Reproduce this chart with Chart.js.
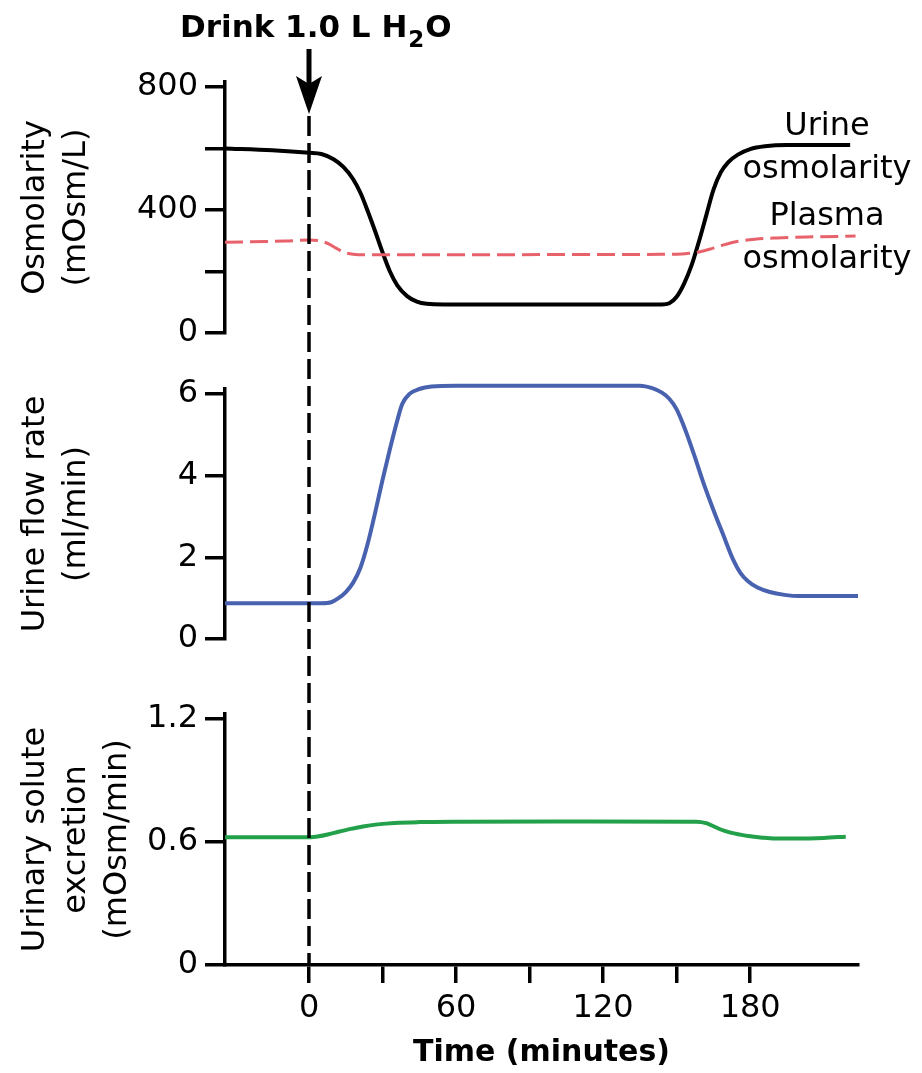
<!DOCTYPE html>
<html><head><meta charset="utf-8">
<script src="https://cdn.jsdelivr.net/npm/chart.js@4.4.1/dist/chart.umd.min.js"></script>
<style>
html,body{margin:0;padding:0;background:#fff;}
#wrap{position:relative;width:922px;height:1073px;overflow:hidden;background:#fff;}
canvas{position:absolute;left:0;top:0;}
</style></head><body>
<div id="wrap">
<canvas id="c1" width="922" height="1073"></canvas>
<canvas id="c2" width="922" height="1073"></canvas>
<canvas id="c3" width="922" height="1073"></canvas>
</div>
<script>
// ---- data ----
const urineOsmTime = [-34.3, -15, 0, 5, 10, 14, 18, 21, 24, 27, 30, 33, 36, 40, 44, 48, 55, 100, 144, 147, 150, 153, 156, 159, 162, 165, 168, 171, 175, 180, 186, 195, 220.8];
const urineOsmValues = [600, 594, 586, 582, 565, 540, 500, 455, 395, 330, 262, 200, 155, 120, 102, 95, 93, 93, 93, 97, 118, 160, 218, 295, 380, 465, 522, 555, 580, 598, 607, 611, 611];
const plasmaOsmTime = [-34.3, -10, 0, 4, 8, 11, 14, 18, 24, 60, 100, 150, 155, 160, 165, 170, 175, 182, 191, 203, 223];
const plasmaOsmValues = [295, 299, 302, 300, 290, 276, 263, 256, 254, 254, 255, 256, 259, 265, 276, 288, 298, 305, 309, 312, 315];
const flowTime = [-34.3, 0, 5, 9, 12, 15, 18, 21, 24, 27, 30, 33, 36, 38, 41, 45, 50, 60, 100, 135, 140, 144, 147, 150, 153, 157, 161, 165, 169, 173, 176, 179, 183, 188, 194, 200, 224];
const flowValues = [0.874, 0.874, 0.874, 0.9, 1.0, 1.15, 1.38, 1.75, 2.35, 3.1, 3.9, 4.65, 5.35, 5.75, 6.0, 6.12, 6.18, 6.2, 6.2, 6.2, 6.14, 6.03, 5.88, 5.62, 5.2, 4.53, 3.81, 3.16, 2.55, 1.95, 1.62, 1.42, 1.26, 1.15, 1.08, 1.05, 1.05];
const soluteTime = [-34.3, 0, 4, 8, 12, 17, 22, 28, 35, 45, 60, 100, 158, 162, 165, 168, 172, 176, 180, 185, 190, 200, 210, 219];
const soluteValues = [0.623, 0.623, 0.628, 0.638, 0.65, 0.664, 0.676, 0.686, 0.693, 0.697, 0.699, 0.70, 0.699, 0.692, 0.677, 0.661, 0.646, 0.636, 0.628, 0.621, 0.617, 0.617, 0.620, 0.626];

const timeTicks = [0, 30, 60, 90, 120, 150, 180];
const timeTickLabels = ['0', '', '60', '', '120', '', '180'];
const osmTicks = [0, 200, 400, 600, 800];
const osmTickLabels = ['0', '', '400', '', '800'];
const flowTicks = [0, 2, 4, 6];
const flowTickLabels = ['0', '2', '4', '6'];
const soluteTicks = [0, 0.6, 1.2];
const soluteTickLabels = ['0', '0.6', '1.2'];
const drinkTime = 0;

// ---- helpers ----
const FONT = "'DejaVu Sans', sans-serif";
const X_MIN = -34.3, X_MAX = 224;
const pts = (t, v) => t.map((x, i) => ({x: x, y: v[i]}));

function xScale(show) {
  return {
    type: 'linear', min: X_MIN, max: X_MAX, display: show,
    afterBuildTicks: ax => { ax.ticks = timeTicks.map(v => ({value: v})); },
    afterFit: ax => { if (show) ax.height = 108; },
    grid: {drawOnChartArea: false, drawTicks: true, tickLength: 18, lineWidth: 3.5, color: '#000'},
    border: {display: true, width: 3.5, color: '#000'},
    ticks: {autoSkip: false, maxRotation: 0, padding: 6, color: '#000',
      font: {family: FONT, size: 32}, callback: (v, i) => timeTickLabels[i]},
    title: {display: true, text: 'Time (minutes)', color: '#000',
      font: {family: FONT, size: 30, weight: 'bold'}, padding: {top: 0, bottom: 2}}
  };
}
function yScale(min, max, tickVals, tickLabels, title) {
  return {
    type: 'linear', position: 'left', min: min, max: max,
    afterBuildTicks: ax => { ax.ticks = tickVals.map(v => ({value: v})); },
    afterFit: ax => { ax.width = 225; },
    grid: {drawOnChartArea: false, drawTicks: true, tickLength: 20, lineWidth: 3.5, color: '#000'},
    border: {display: true, width: 3.5, color: '#000'},
    ticks: {autoSkip: false, padding: 7, color: '#000',
      font: {family: FONT, size: 32}, callback: (v, i) => tickLabels[i]},
    title: {display: true, text: title, color: '#000',
      font: {family: FONT, size: 32, lineHeight: 1.28}, padding: {top: 15, bottom: 0}}
  };
}
function lineDs(label, data, color, width, dash) {
  return {label: label, data: data, borderColor: color, borderWidth: width, borderDash: dash || [],
    pointRadius: 0, fill: false, cubicInterpolationMode: 'monotone', borderCapStyle: 'butt', clip: false};
}
const common = {responsive: false, maintainAspectRatio: false, animation: false,
  plugins: {legend: {display: false}, tooltip: {enabled: false}}, events: []};

// ---- top panel: osmolarity ----
const labelsPlugin = {
  id: 'labels',
  afterDraw(chart) {
    const ctx = chart.ctx;
    ctx.save();
    ctx.fillStyle = '#000';
    ctx.font = "32px " + FONT;
    ctx.textAlign = 'center';
    ctx.textBaseline = 'alphabetic';
    ctx.fillText('Urine', 827, 135);
    ctx.fillText('osmolarity', 827, 178);
    ctx.fillText('Plasma', 827, 225);
    ctx.fillText('osmolarity', 827, 268);
    ctx.restore();
  }
};
new Chart(document.getElementById('c1'), {
  type: 'line',
  data: {datasets: [
    lineDs('Plasma osmolarity', pts(plasmaOsmTime, plasmaOsmValues), '#e8626b', 3, [18, 7]),
    lineDs('Urine osmolarity', pts(urineOsmTime, urineOsmValues), '#000000', 4)
  ]},
  options: Object.assign({}, common, {
    layout: {padding: {top: 82, bottom: 1073 - 333, left: 0, right: 64}},
    scales: {x: xScale(false), y: yScale(0, 816, osmTicks, osmTickLabels, ['Osmolarity', '(mOsm/L)'])}
  }),
  plugins: [labelsPlugin]
});

// ---- middle panel: urine flow ----
new Chart(document.getElementById('c2'), {
  type: 'line',
  data: {datasets: [lineDs('Urine flow rate', pts(flowTime, flowValues), '#4862b0', 4)]},
  options: Object.assign({}, common, {
    layout: {padding: {top: 389, bottom: 1073 - 639, left: 0, right: 64}},
    scales: {x: xScale(false), y: yScale(0, 6.12, flowTicks, flowTickLabels, ['Urine flow rate', '(ml/min)'])}
  })
});

// ---- bottom panel: solute excretion + annotations ----
const drinkPlugin = {
  id: 'drink',
  afterDraw(chart) {
    const ctx = chart.ctx;
    const x = Math.round(chart.scales.x.getPixelForValue(drinkTime));
    ctx.save();
    // dashed vertical line
    ctx.strokeStyle = '#000';
    ctx.lineWidth = 3.5;
    ctx.setLineDash([20, 7]);
    ctx.beginPath();
    ctx.moveTo(x, 116);
    ctx.lineTo(x, chart.chartArea.bottom);
    ctx.stroke();
    ctx.setLineDash([]);
    // arrow
    ctx.lineWidth = 5;
    ctx.beginPath();
    ctx.moveTo(x, 49);
    ctx.lineTo(x, 92);
    ctx.stroke();
    ctx.fillStyle = '#000';
    ctx.beginPath();
    ctx.moveTo(x, 114);
    ctx.lineTo(x - 13, 76);
    ctx.lineTo(x, 84);
    ctx.lineTo(x + 13, 76);
    ctx.closePath();
    ctx.fill();
    // title
    ctx.textAlign = 'left';
    ctx.textBaseline = 'alphabetic';
    ctx.font = "bold 31px " + FONT;
    let tx = 180;
    const t1 = 'Drink 1.0 L H';
    ctx.fillText(t1, tx, 37);
    tx += ctx.measureText(t1).width;
    ctx.font = "bold 23px " + FONT;
    ctx.fillText('2', tx + 1, 47);
    tx += ctx.measureText('2').width + 2;
    ctx.font = "bold 31px " + FONT;
    ctx.fillText('O', tx, 37);
    ctx.restore();
  }
};
new Chart(document.getElementById('c3'), {
  type: 'line',
  data: {datasets: [lineDs('Urinary solute excretion', pts(soluteTime, soluteValues), '#22a04a', 4)]},
  options: Object.assign({}, common, {
    layout: {padding: {top: 714, bottom: 0, left: 0, right: 64}},
    scales: {x: xScale(true), y: yScale(0, 1.2244, soluteTicks, soluteTickLabels, ['Urinary solute', 'excretion', '(mOsm/min)'])}
  }),
  plugins: [drinkPlugin]
});
</script>
</body></html>
